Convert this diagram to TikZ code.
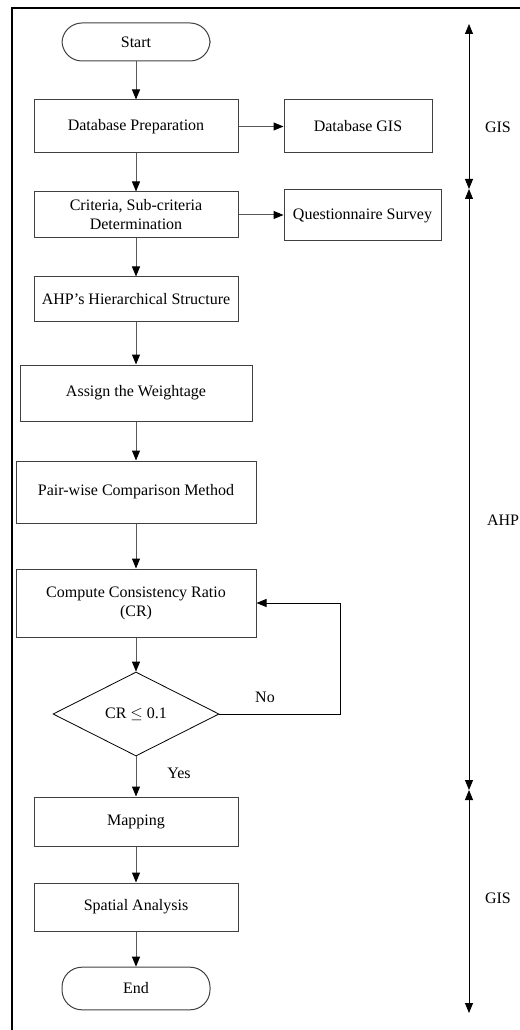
\documentclass[tikz,border=0pt]{standalone}
\usepackage{fontspec}
\setmainfont{Liberation Serif}
\usetikzlibrary{arrows.meta,shapes.geometric}
\begin{document}
\begin{tikzpicture}[x=0.75pt,y=-0.75pt,
    every node/.style={font=\fontsize{12pt}{14.25pt}\selectfont},
    box/.style={draw=black!75,line width=0.75pt,align=center,inner sep=2pt},
    term/.style={box,rounded corners=15pt,minimum width=111pt},
    arr/.style={draw=black!65,line width=0.75pt,-{Triangle[length=7.5pt,width=6pt,color=black]}},
    span/.style={draw=black,line width=0.6pt,{Triangle[length=7.5pt,width=6pt]}-{Triangle[length=7.5pt,width=6pt]}}]
    \useasboundingbox (0,0) rectangle (520,1030);
    % frame
    \draw[line width=1.5pt] (12,1032) -- (12,8) -- (522,8);
    % main column
    \node[term,minimum height=28.5pt] (start) at (136,42) {Start};
    \node[box,minimum width=153pt,minimum height=39.75pt] (prep) at (136,126.5) {Database Preparation};
    \node[box,minimum width=111pt,minimum height=39.75pt] (dbgis) at (358,126.5) {Database GIS};
    \node[box,minimum width=153pt,minimum height=34.5pt] (crit) at (136,215) {Criteria, Sub-criteria\\Determination};
    \node[box,minimum width=117.75pt,minimum height=38.25pt] (quest) at (362.5,215.5) {Questionnaire Survey};
    \node[box,minimum width=153pt,minimum height=33pt] (hier) at (136,299) {AHP’s Hierarchical Structure};
    \node[box,minimum width=174pt,minimum height=42pt] (weight) at (136,393) {Assign the Weightage};
    \node[box,minimum width=180pt,minimum height=46.5pt] (pair) at (136,492) {Pair-wise Comparison Method};
    \node[box,minimum width=180pt,minimum height=51pt] (ratio) at (136,603) {Compute Consistency Ratio\\(CR)};
    \node[diamond,draw=black,line width=0.6pt,inner sep=0pt,minimum width=124.5pt,minimum height=63pt] (check) at (136,714) {CR $\leq$ 0.1};
    \node[box,minimum width=153pt,minimum height=36.75pt] (map) at (136,821.5) {Mapping};
    \node[box,minimum width=153pt,minimum height=36pt] (spat) at (136,907) {Spatial Analysis};
    \node[term,minimum height=32pt] (stop) at (136,988.5) {End};
    % connectors
    \draw[arr] (start) -- (prep);
    \draw[arr] (prep) -- (dbgis);
    \draw[arr] (prep) -- (crit);
    \draw[arr] (crit.east) -- (crit.east -| quest.west);
    \draw[arr] (crit) -- (hier);
    \draw[arr] (hier) -- (weight);
    \draw[arr] (weight) -- (pair);
    \draw[arr] (pair) -- (ratio);
    \draw[arr] (ratio) -- (check);
    \coordinate (loop) at (340,714);
    \draw[arr,draw=black] (check.east) -- (loop) |- (ratio.east);
    \draw[arr] (check) -- (map);
    \draw[arr] (map) -- (spat);
    \draw[arr] (spat) -- (stop);
    \node (no) at (265,697) {No};
    \node (yes) at (179,773) {Yes};
    % phases
    \coordinate (p0) at (469,24);
    \coordinate (p1) at (469,189);
    \coordinate (p2) at (469,790);
    \coordinate (p3) at (469,1013);
    \draw[span] (p0) -- (p1);
    \draw[span] (p1) -- (p2);
    \draw[span] (p2) -- (p3);
    \node (gis1) at (498,127) {GIS};
    \node (ahp) at (503,520) {AHP};
    \node (gis2) at (498,898) {GIS};
\end{tikzpicture}
\end{document}
